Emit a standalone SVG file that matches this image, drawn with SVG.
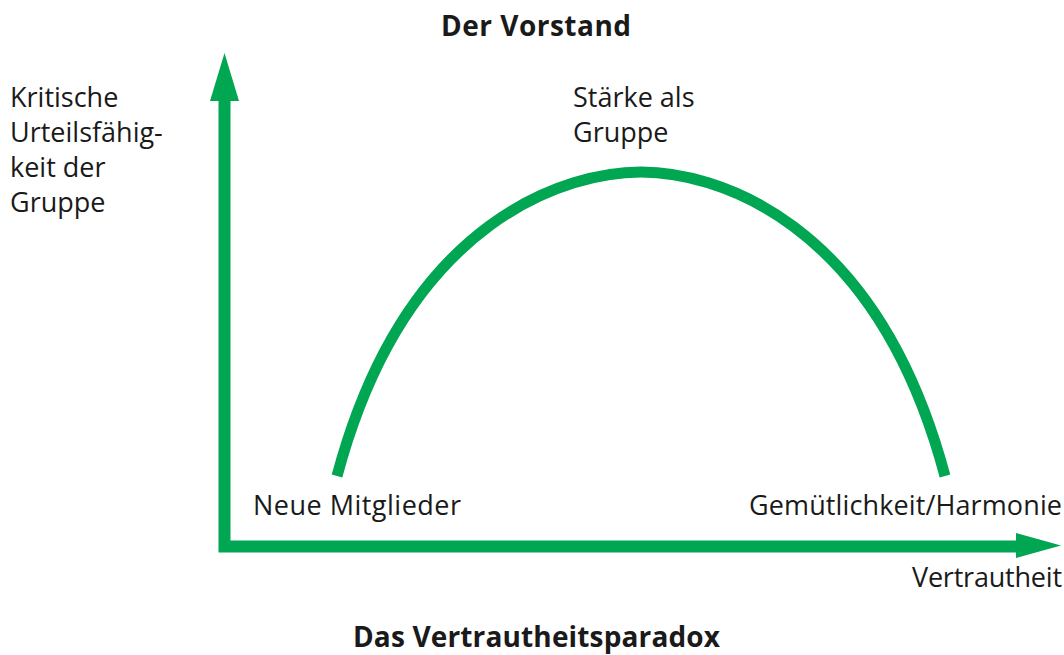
<svg xmlns="http://www.w3.org/2000/svg" width="1064" height="655" viewBox="0 0 1064 655">
<style>
text{font-family:"Open Sans","Noto Sans","DejaVu Sans",sans-serif;font-size:27px;fill:#1a1a1a}
.b{font-weight:bold;font-size:28px}
.g{stroke:#00A651;fill:none}
</style>
<rect width="1064" height="655" fill="#fff"/>
<g id="title"><text class="b" x="536" y="36" text-anchor="middle" textLength="190" lengthAdjust="spacing">Der Vorstand</text></g>
<g id="connectors">
<path class="g" stroke-width="12" d="M224.5,100 V546.5 H1018"/>
<polygon fill="#00A651" points="224.5,53 210,101 239,101"/>
<polygon fill="#00A651" points="1061,545.5 1016,533 1016,558"/>
<path class="g" stroke-width="11" d="M337,476 C407,215 571,172 641,172 C711,172 875,215 945,476"/>
</g>
<g id="yaxis-label"><text x="10" y="107">Kritische</text><text x="10" y="142">Urteilsfähig-</text><text x="10" y="177">keit der</text><text x="10" y="212">Gruppe</text></g>
<g id="peak"><text x="573" y="107">Stärke als</text><text x="573" y="142">Gruppe</text></g>
<g id="start"><text x="253" y="515" textLength="208" lengthAdjust="spacing">Neue Mitglieder</text></g>
<g id="end"><text x="749" y="515" textLength="313" lengthAdjust="spacing">Gemütlichkeit/Harmonie</text></g>
<g id="xaxis-label"><text x="912" y="587" textLength="150" lengthAdjust="spacing">Vertrautheit</text></g>
<g id="subtitle"><text class="b" x="353" y="647" textLength="367" lengthAdjust="spacing">Das Vertrautheitsparadox</text></g>
</svg>
